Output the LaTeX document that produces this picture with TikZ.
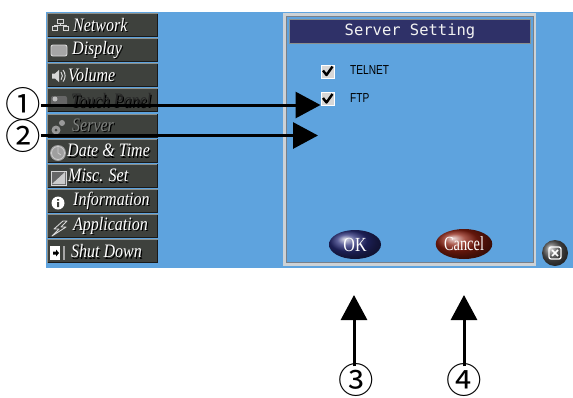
\documentclass[tikz,border=0pt]{standalone}
\usepackage{fontspec}
\setmainfont{Liberation Serif}
\newfontfamily\dejavu{DejaVu Sans}
\newfontfamily\cjkfont{Noto Sans CJK JP}
\newfontfamily\monofont{DejaVu Sans Mono}
\newfontfamily\lsans{Liberation Sans}
\usetikzlibrary{arrows.meta,shapes.geometric}
\definecolor{scr}{RGB}{94,163,222}
\definecolor{navy}{RGB}{47,49,104}
\definecolor{btn}{RGB}{62,65,61}
\definecolor{btnhi}{RGB}{140,144,140}
\definecolor{btnlo}{RGB}{25,25,25}
\definecolor{txtdark}{RGB}{40,40,40}
\definecolor{txtgray}{RGB}{125,128,125}
\definecolor{okblue}{RGB}{40,44,120}
\definecolor{cancelred}{RGB}{140,32,16}
\definecolor{panelrim}{RGB}{205,210,214}
\definecolor{panelin}{RGB}{120,128,138}
\definecolor{iconw}{RGB}{215,215,215}
\newcommand{\shtext}[2]{{\color{black}\rlap{\hspace{1.2pt}\raisebox{-1.2pt}{#2}}}{\color{#1}#2}}
\tikzset{
  menutxt/.style={anchor=west,inner sep=0pt,font=\fontsize{16.5}{16.5}\selectfont\itshape},
  circnum/.style={inner sep=0pt,font=\cjkfont\fontsize{35.5}{35.5}\selectfont},
  arr/.style={line width=3pt,-{Triangle[length=25pt,width=26pt]}},
  cbox/.style={draw=white,line width=1pt,fill=iconw,minimum size=13pt,inner sep=0pt},
  cblabel/.style={anchor=west,inner sep=0pt,font=\lsans\fontsize{13}{13}\selectfont},
  pill/.style={ellipse,inner sep=0pt,text=white,font=\fontsize{20}{20}\selectfont},
  iconln/.style={draw=iconw,line width=0.9pt}
}
\begin{document}
\begin{tikzpicture}[x=1pt,y=-1pt]
\useasboundingbox (0,0) rectangle (573,397);
\fill[scr] (46,12) rectangle (573,268);
% menu buttons
\foreach \t/\x/\c [count=\i from 0] in {Network/73/white, Display/72/white, Volume/68/white, Touch Panel/71/txtdark, Server/72/txtgray, Date \& Time/67/white, Misc. Set/68/white, Information/73/white, Application/73/white, Shut Down/71/white}{
  \pgfmathsetmacro\yt{13+25.15*\i}
  \fill[btn] (47,\yt) rectangle (158,\yt+24);
  \draw[btnhi,line width=1pt] (47.5,\yt+24) -- (47.5,\yt+0.5) -- (157.5,\yt+0.5);
  \draw[btnlo,line width=1pt] (47.5,\yt+23.5) -- (157.5,\yt+23.5) -- (157.5,\yt+0.5);
  \node[menutxt] (m\i) at (\x,\yt+12.5) {\scalebox{0.97}[1.15]{\shtext{\c}{\t}}};
}
% icons
% network
\begin{scope}[shift={(60,25)}]
  \draw[iconln] (-3,-6) rectangle (3,-2) (0,-2) -- (0,0) (-6,0) -- (6,0) (-6,0) -- (-6,1) (6,0) -- (6,1) (-8,1) rectangle (-3,5) (3,1) rectangle (8,5);
\end{scope}
% display
\draw[iconln,fill=gray!70,rounded corners=2pt] (51,45) rectangle (67,56);
% volume
\begin{scope}[shift={(55,76)}]
  \fill[iconw] (-3,-2.5) rectangle (0,2.5) (0,-2.5) -- (4,-6) -- (4,6) -- (0,2.5) -- cycle;
  \draw[iconw,line width=1pt] (6,-4) arc (-40:40:6) ;
  \draw[iconw,line width=1pt] (8,-6) arc (-40:40:9) ;
\end{scope}
% touch panel
\fill[gray!80!black,rounded corners=2pt] (51,96) rectangle (67,107);
\fill[gray!50] (55,99) circle (2.5);
% server
\fill[gray!80] (56,130) circle (4.5);
\fill[gray!80] (62,123) circle (3);
\fill[btn] (56,130) circle (1.5);
% date & time
\fill[gray!75] (58,153) circle (8);
\draw[gray!40,line width=0.8pt] (58,153) circle (6.5) (58,147.5) -- (58,153) -- (61,155);
% misc set
\draw[iconw,line width=1pt,fill=black!60] (51,171) rectangle (66,185);
\fill[gray!40] (52,184) -- (65,172) -- (65,184) -- cycle;
% information
\fill[white] (58,203) circle (6.5);
\fill[btn] (57,199) rectangle (59,200.5) (57,202) rectangle (59,207);
% application
\draw[iconw,line width=0.9pt,line join=round] (63,221) -- (54,229) -- (59,229) -- (52,236) -- (66,227) -- (61,227) -- (67,221) -- cycle;
% shut down
\fill[white] (50,246) rectangle (60,260);
\fill[black] (53,251.5) rectangle (56,254.5) (56,249.5) -- (59,253) -- (56,256.5) -- cycle;
\fill[gray!70] (63,246) rectangle (64.5,260);
% panel
\draw[panelrim,line width=2.5pt] (284.5,14.5) rectangle (535,264.5);
\draw[panelin,line width=0.8pt] (286.5,16.5) rectangle (533,262.5);
\draw[btnhi,fill=navy,line width=1pt] (289.5,19.5) rectangle (530,43);
\node[inner sep=0pt,text=white!90!gray,font=\monofont\fontsize{15.5}{15.5}\selectfont] (title) at (410,31) {Server Setting};
% checkboxes
\node[cbox] (telnetcb) at (327.5,71.5) {};
\node[cbox] (ftpcb) at (327.5,99) {};
\foreach \b in {telnetcb,ftpcb}{
  \draw[black,line width=2.4pt,line join=round] ([shift={(-4.5,-1)}]\b.center) -- ([shift={(-1,3.5)}]\b.center) -- ([shift={(5,-5)}]\b.center);
}
\node[cblabel] (telnet) at (350,70.5) {\scalebox{0.78}[1]{TELNET}};
\node[cblabel] (ftp) at (350,98) {\scalebox{0.78}[1]{FTP}};
% buttons
\node[pill,minimum width=52pt,minimum height=29pt,ball color=okblue,shading=ball] (ok) at (355,244.5) {\scalebox{0.8}[1]{OK}};
\node[pill,minimum width=55pt,minimum height=30pt,ball color=cancelred,shading=ball] (cancel) at (464,244) {\scalebox{0.72}[1]{Cancel}};
% close
\node[circle,minimum size=26pt,ball color=gray!70!black,inner sep=0pt] (close) at (555,253) {};
\draw[white,line width=1.3pt,rounded corners=2pt] (549,247) rectangle (561,259);
\draw[white,line width=1.6pt] (552,250) -- (558,256) (558,250) -- (552,256);
% callout numbers
\node[circnum] (c1) at (23,104) {①};
\node[circnum] (c2) at (23,136.5) {②};
\node[circnum] (c3) at (356,380) {③};
\node[circnum] (c4) at (464,380) {④};
\coordinate (t2) at (318,135.5);
\coordinate (t3) at (354,295);
\coordinate (t4) at (464,295);
\draw[arr] ([yshift=-1pt]c1.east) -- ([yshift=-1pt]ftpcb.west |- c1.east);
\draw[arr] (c2.east |- t2) -- (t2);
\draw[arr] ([yshift=-3pt]c3.north -| t3) -- (t3);
\draw[arr] ([yshift=-3pt]c4.north) -- (t4);
\end{tikzpicture}
\end{document}
